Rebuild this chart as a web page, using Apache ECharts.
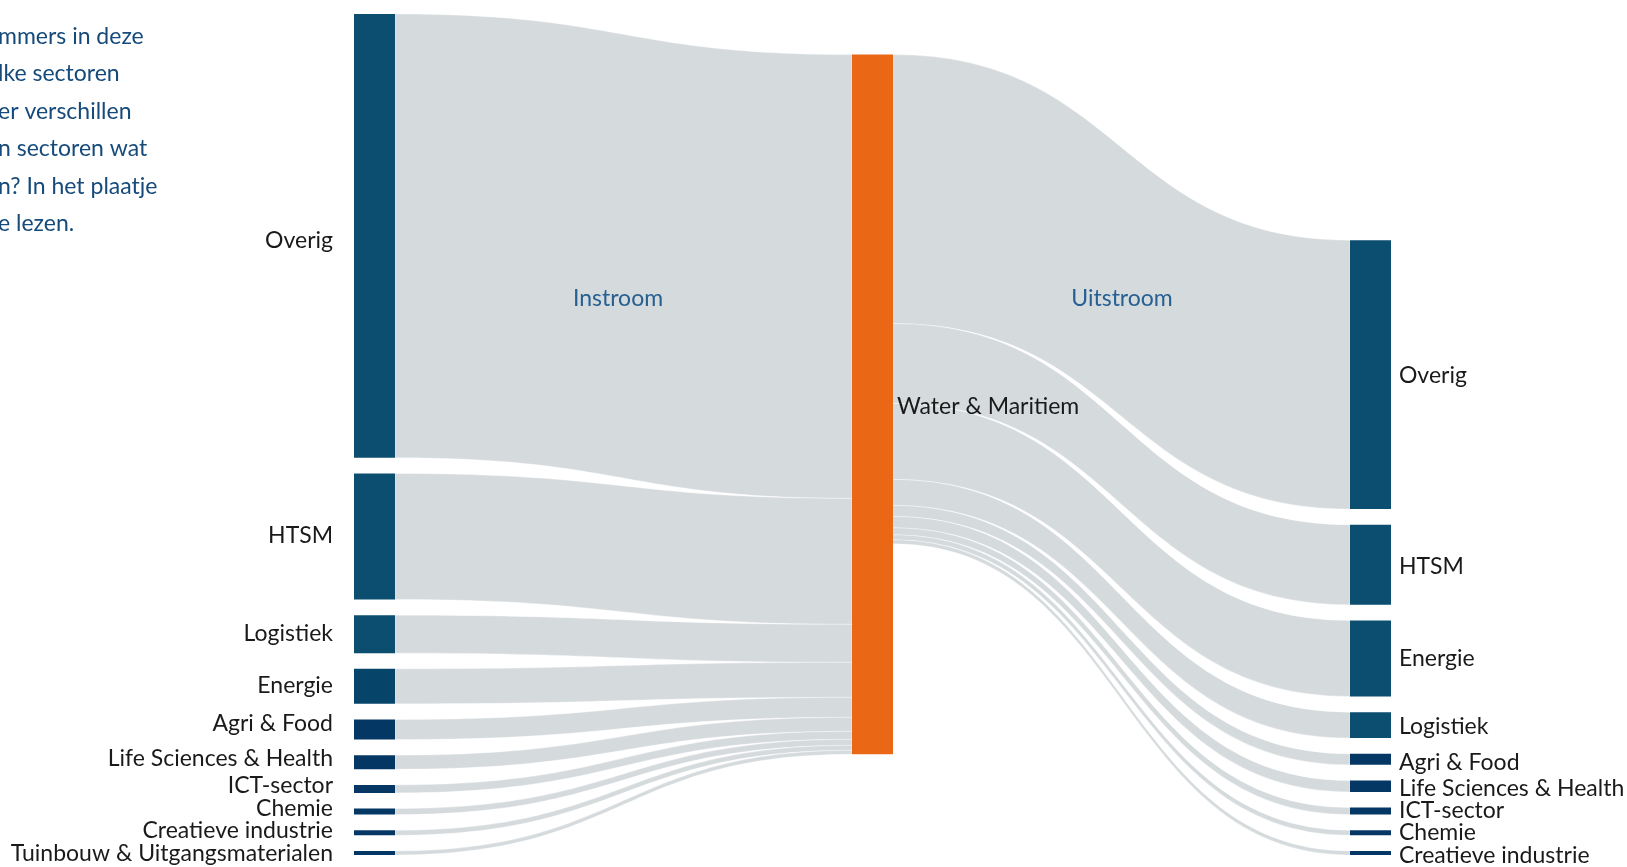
<!DOCTYPE html>
<html><head><meta charset="utf-8">
<script src="https://cdn.jsdelivr.net/npm/echarts@6/dist/echarts.min.js"></script>
<style>html,body{margin:0;padding:0;background:#fff;overflow:hidden}#c{width:1627px;height:867px}</style>
</head><body><div id="c"></div>
<script>
// ---- data ----
const inSectors = ['Overig','HTSM','Logistiek','Energie','Agri & Food','Life Sciences & Health','ICT-sector','Chemie','Creatieve industrie','Tuinbouw & Uitgangsmaterialen'];
const inValues = [444,126,38,35,20,14,8,6,5,4];
const outSectors = ['Overig','HTSM','Energie','Logistiek','Agri & Food','Life Sciences & Health','ICT-sector','Chemie','Creatieve industrie'];
const outValues = [269,80,76,26,11,11.4,7,5,4];
const centerNode = 'Water & Maritiem';
const flowLabels = ['Instroom','Uitstroom'];
const introLines = ['mmers in deze','lke sectoren','er verschillen','n sectoren wat','n? In het plaatje','e lezen.'];

// ---- styles ----
const inColors = ['#0c4e6f','#0c4e6f','#0c4e6f','#07446a','#043764','#043764','#043764','#043764','#043764','#043764'];
const outColors = ['#0c4e6f','#0c4e6f','#0c4e6f','#0c4e6f','#043764','#043764','#043764','#043764','#043764'];
const inLabelShift = [5,-1,-1,-1,-6,-4,-3,-3,-2,1];
const outLabelShift = [1,2,0,1,3,2,-1,0,3];
const FONT = 'Lato';

const nodes = [];
inSectors.forEach((s,i)=>nodes.push({name:'in:'+s,itemStyle:{color:inColors[i]},label:{position:'left',distance:21,offset:[0,inLabelShift[i]],formatter:s}}));
nodes.push({name:centerNode,itemStyle:{color:'#ea6716'},label:{position:'right',distance:4,offset:[0,2]}});
outSectors.forEach((s,i)=>nodes.push({name:'out:'+s,itemStyle:{color:outColors[i]},label:{position:'right',distance:8,offset:[0,outLabelShift[i]],formatter:s}}));
const links = [];
inSectors.forEach((s,i)=>links.push({source:'in:'+s,target:centerNode,value:inValues[i]}));
outSectors.forEach((s,i)=>links.push({source:centerNode,target:'out:'+s,value:outValues[i]}));

const graphics = [];
introLines.forEach((t,i)=>graphics.push({type:'text',z:100,left:-2,top:25+i*37.4,style:{text:t,fill:'#154a7a',font:'23px '+FONT}}));
graphics.push({type:'text',z:100,x:618,y:299,style:{text:flowLabels[0],fill:'#265f92',font:'23px '+FONT,textAlign:'center',textVerticalAlign:'middle'}});
graphics.push({type:'text',z:100,x:1122,y:299,style:{text:flowLabels[1],fill:'#265f92',font:'23px '+FONT,textAlign:'center',textVerticalAlign:'middle'}});

const chart = echarts.init(document.getElementById('c'));
chart.setOption({
  animation:false,
  graphic: graphics,
  series:[{
    type:'sankey',
    z:2,
    left:354, top:14, width:1037, height:841,
    nodeWidth:41, nodeGap:15.7,
    draggable:false,
    emphasis:{disabled:true},
    label:{color:'#1a1a1a',fontFamily:FONT,fontSize:23},
    lineStyle:{color:'#d5dadd',opacity:1,curveness:0.5,borderColor:'rgba(255,255,255,0.7)',borderWidth:0.5},
    itemStyle:{borderWidth:0},
    data:nodes,
    links:links
  }]
});
</script></body></html>
